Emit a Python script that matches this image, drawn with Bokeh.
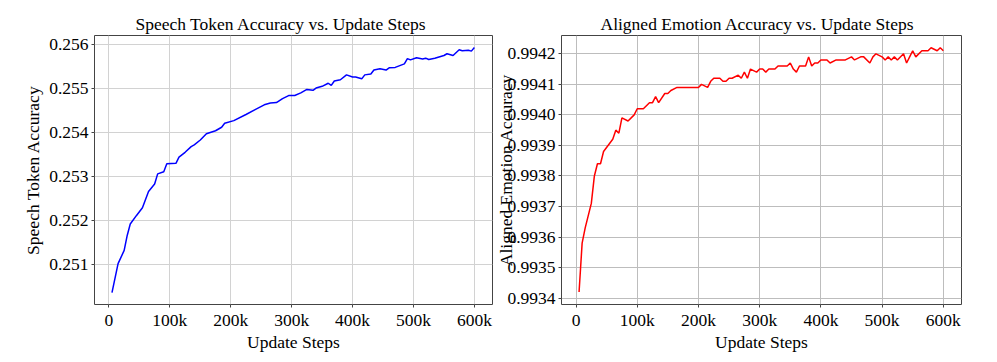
from bokeh.plotting import figure
from bokeh.layouts import row
from bokeh.models import Range1d, FixedTicker, PrintfTickFormatter
from bokeh.embed import file_html
from bokeh.resources import INLINE

# ---------------- data ----------------
token_steps = [5, 15, 25, 30, 35, 45, 55, 65, 75, 80, 90, 95, 110, 115, 125, 135, 140, 150,
               160, 175, 185, 190, 205, 225, 240, 255, 265, 275, 285, 295, 305, 315, 325,
               335, 340, 350, 360, 365, 370, 380, 390, 400, 405, 415, 420, 430, 435, 445,
               455, 460, 470, 485, 490, 495, 505, 515, 520, 525, 535, 550, 555, 565, 575,
               580, 590, 595, 600]
token_acc = [0.25036, 0.25102, 0.25132, 0.25166, 0.25192, 0.25211, 0.25229, 0.25266, 0.25283,
             0.25306, 0.25311, 0.25329, 0.25330, 0.25344, 0.25355, 0.25368, 0.25372, 0.25383,
             0.25397, 0.25404, 0.25412, 0.25421, 0.25427, 0.25441, 0.25452, 0.25463, 0.25467,
             0.25468, 0.25477, 0.25484, 0.25484, 0.25490, 0.25498, 0.25496, 0.25501, 0.25505,
             0.25512, 0.25507, 0.25517, 0.25520, 0.25531, 0.25526, 0.25526, 0.25522, 0.25531,
             0.25533, 0.25542, 0.25545, 0.25542, 0.25547, 0.25548, 0.25556, 0.25568, 0.25565,
             0.25570, 0.25567, 0.25569, 0.25566, 0.25569, 0.25575, 0.25579, 0.25575, 0.25588,
             0.25586, 0.25587, 0.25585, 0.25593]

emotion_steps = [5, 10, 15, 25, 30, 35, 40, 45, 60, 65, 70, 75, 85, 95, 100, 110, 120, 125,
                 130, 135, 145, 150, 155, 165, 200, 205, 215, 220, 225, 235, 240, 245, 250,
                 255, 265, 270, 275, 280, 285, 295, 300, 305, 310, 315, 325, 330, 345, 350,
                 355, 360, 365, 375, 380, 385, 390, 395, 400, 410, 415, 425, 430, 440, 450,
                 455, 465, 470, 480, 485, 490, 500, 505, 510, 515, 520, 525, 535, 540, 545,
                 550, 555, 565, 575, 580, 590, 595, 600]
emotion_acc = [0.99342, 0.99358, 0.99363, 0.99371, 0.99380, 0.99384, 0.99384, 0.99388, 0.99392,
               0.99395, 0.99394, 0.99399, 0.99398, 0.99400, 0.99402, 0.99402, 0.99404, 0.99404,
               0.99406, 0.99404, 0.99407, 0.99407, 0.99408, 0.99409, 0.99409, 0.99410, 0.99409,
               0.99411, 0.99412, 0.99412, 0.99411, 0.99411, 0.99412, 0.99412, 0.99413, 0.99412,
               0.99414, 0.99412, 0.99415, 0.99414, 0.99415, 0.99415, 0.99414, 0.99415, 0.99415,
               0.99416, 0.99416, 0.99417, 0.99415, 0.99414, 0.99416, 0.99416, 0.99419, 0.99416,
               0.99417, 0.99417, 0.99418, 0.99418, 0.99417, 0.99418, 0.99418, 0.99418, 0.99419,
               0.99418, 0.99419, 0.99419, 0.99417, 0.99419, 0.99420, 0.99419, 0.99418, 0.99419,
               0.99418, 0.99419, 0.99418, 0.99420, 0.99417, 0.99419, 0.99421, 0.99419, 0.99421,
               0.99421, 0.99422, 0.99421, 0.99422, 0.99421]

x_ticks = [0, 100000, 200000, 300000, 400000, 500000, 600000]
x_tick_labels = ["0", "100k", "200k", "300k", "400k", "500k", "600k"]
token_y_ticks = [0.251, 0.252, 0.253, 0.254, 0.255, 0.256]
emotion_y_ticks = [0.9934, 0.9935, 0.9936, 0.9937, 0.9938, 0.9939, 0.9940, 0.9941, 0.9942]

FONT = "Liberation Serif"
FS = "17.5px"


def make_fig(title, ylabel, xs, ys, color, y_range, y_ticks, y_fmt, width,
             border_left, border_right, title_offset, ylabel_standoff, grid_color):
    p = figure(width=width, height=360, output_backend="svg", toolbar_location=None,
               x_range=Range1d(-23700, 629700), y_range=Range1d(*y_range),
               min_border_left=border_left, min_border_right=border_right,
               min_border_top=35, min_border_bottom=56)
    p.line([s * 1000 for s in xs], ys, color=color, line_width=1.5)

    p.title.text = title
    p.title.text_font = FONT
    p.title.text_font_size = FS
    p.title.text_font_style = "normal"
    p.title.text_color = "black"
    p.title.align = "left"
    p.title.offset = title_offset
    p.title.standoff = 4

    p.xaxis.ticker = FixedTicker(ticks=x_ticks)
    p.xaxis.major_label_overrides = {t: l for t, l in zip(x_ticks, x_tick_labels)}
    p.yaxis.ticker = FixedTicker(ticks=y_ticks)
    p.yaxis.formatter = PrintfTickFormatter(format=y_fmt)

    p.xaxis.axis_label = "Update Steps"
    p.yaxis.axis_label = ylabel
    for ax in (p.xaxis[0], p.yaxis[0]):
        ax.axis_label_text_font = FONT
        ax.axis_label_text_font_size = FS
        ax.axis_label_text_font_style = "normal"
        ax.axis_label_text_color = "black"
        ax.major_label_text_font = FONT
        ax.major_label_text_font_size = FS
        ax.major_label_text_color = "black"
        ax.axis_line_color = None
        ax.major_tick_line_color = "#444444"
        ax.major_tick_in = 0
        ax.major_tick_out = 3
        ax.minor_tick_line_color = None
    p.xaxis.major_label_standoff = 2
    p.xaxis.axis_label_standoff = -1
    p.yaxis.major_label_standoff = 3
    p.yaxis.axis_label_standoff = ylabel_standoff

    p.xgrid.grid_line_color = grid_color
    p.ygrid.grid_line_color = grid_color
    p.outline_line_color = "#444444"
    p.outline_line_width = 1
    p.background_fill_color = "white"
    p.border_fill_color = "white"
    return p


p1 = make_fig("Speech Token Accuracy vs. Update Steps", "Speech Token Accuracy",
              token_steps, token_acc, "#0000ff", (0.250091, 0.256205), token_y_ticks, "%.3f",
              width=493, border_left=94, border_right=1, title_offset=41,
              ylabel_standoff=3, grid_color="#d2d2d2")
p2 = make_fig("Aligned Emotion Accuracy vs. Update Steps", "Aligned Emotion Accuracy",
              emotion_steps, emotion_acc, "#ff0000", (0.993379, 0.99426), emotion_y_ticks, "%.4f",
              width=492, border_left=67, border_right=24, title_offset=39,
              ylabel_standoff=-12, grid_color="#bdbdbd")

layout = row(p1, p2)
open("out.html", "w").write(file_html(layout, INLINE))
